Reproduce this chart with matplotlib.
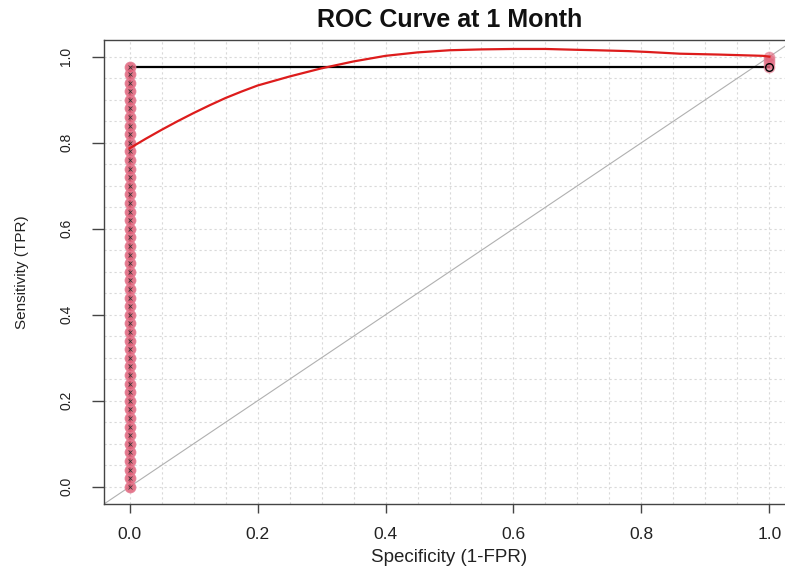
import matplotlib
matplotlib.use("Agg")
import matplotlib.pyplot as plt

plt.rcParams['font.family'] = ['Liberation Sans', 'DejaVu Sans']

# ROC curve (red)
roc_x = [0.00, 0.025, 0.05, 0.075, 0.10, 0.125, 0.15, 0.175, 0.20, 0.25, 0.30, 0.35,
         0.40, 0.45, 0.50, 0.55, 0.60, 0.65, 0.70, 0.73, 0.78, 0.81, 0.86, 0.92, 0.99, 1.00]
roc_y = [0.787, 0.809, 0.830, 0.850, 0.869, 0.887, 0.904, 0.919, 0.933, 0.954, 0.973, 0.989,
         1.002, 1.010, 1.015, 1.017, 1.018, 1.018, 1.016, 1.015, 1.013, 1.011, 1.007, 1.005,
         1.002, 1.000]

# step curve (black)
step_x = [0.0, 0.0, 1.0, 1.0]
step_y = [0.0, 0.977, 0.977, 0.985]

# observed points at specificity 0
pts0_y = [0.00, 0.02, 0.04, 0.06, 0.08, 0.10, 0.12, 0.14, 0.16, 0.18, 0.20, 0.22,
          0.24, 0.26, 0.28, 0.30, 0.32, 0.34, 0.36, 0.38, 0.40, 0.42, 0.44, 0.46,
          0.48, 0.50, 0.52, 0.54, 0.56, 0.58, 0.60, 0.62, 0.64, 0.66, 0.68, 0.70,
          0.72, 0.74, 0.76, 0.78, 0.80, 0.82, 0.84, 0.86, 0.88, 0.90, 0.92, 0.94,
          0.96, 0.977]
# observed points at specificity 1
pts1_y = [0.977, 0.985, 0.993, 1.000]

x_ticks = [0.0, 0.2, 0.4, 0.6, 0.8, 1.0]
y_ticks = [0.0, 0.2, 0.4, 0.6, 0.8, 1.0]
grid_vals = [i * 0.05 for i in range(21)]

W, H = 785, 569
fig = plt.figure(figsize=(W / 100, H / 100), dpi=100)
L, R, T, B = 104, 795, 39.5, 504
ax = fig.add_axes([L / W, 1 - B / H, (R - L) / W, (B - T) / H])
ax.set_xlim(-0.04, 1.04)
ax.set_ylim(-0.04, 1.04)

for g in grid_vals:
    ax.axvline(g, color='#d9d9d9', lw=0.8, ls=(0, (2, 2.5)), zorder=0)
    ax.axhline(g, color='#d9d9d9', lw=0.8, ls=(0, (2, 2.5)), zorder=0)

ax.axline((0, 0), (1, 1), color='#b0b0b0', lw=0.8, zorder=1)

ax.plot(step_x, step_y, color='black', lw=1.6, zorder=2)

ax.plot([0.0] * len(pts0_y), pts0_y, ls='none', marker='o', ms=7.5,
        mfc='#e06078', mec='#e47a90', alpha=0.85, zorder=3)
ax.plot([0.0] * len(pts0_y), pts0_y, ls='none', marker='x', ms=2.6,
        mec='#333333', mew=0.5, zorder=4)
ax.plot([1.0] * len(pts1_y), pts1_y, ls='none', marker='o', ms=7.5,
        mfc='#e06078', mec='#e47a90', alpha=0.55, zorder=3)
ax.plot([1.0], [0.977], ls='none', marker='o', ms=5.5, mfc='none',
        mec='black', mew=1.0, zorder=4)

ax.plot(roc_x, roc_y, color='#dd1c1c', lw=1.6, zorder=5)

for s in ax.spines.values():
    s.set_color('#444444')
    s.set_linewidth(1.0)

ax.set_xticks(x_ticks)
ax.set_xticklabels([f"{v:.1f}" for v in x_ticks])
ax.set_yticks(y_ticks)
ax.set_yticklabels([f"{v:.1f}" for v in y_ticks], rotation=90, va='center')
ax.tick_params(axis='x', length=6.5, width=1.0, color='#444444', pad=10,
               labelsize=12.5, labelcolor='#222222')
ax.tick_params(axis='y', length=9, width=1.0, color='#444444', pad=13,
               labelsize=10, labelcolor='#222222')

ax.set_xlabel("Specificity (1-FPR)", fontsize=13.5, color='#222222', va='center')
ax.xaxis.set_label_coords(0.5, (B - 558) / (B - T))
ax.set_ylabel("Sensitivity (TPR)", fontsize=11, color='#222222', va='center')
ax.yaxis.set_label_coords((22 - L) / (R - L), 0.5)

fig.text(449.5 / W, 1 - 20 / H, "ROC Curve at 1 Month", fontsize=18,
         fontweight='bold', ha='center', va='center', color='#111111')

fig.savefig("out.png", dpi=100)
